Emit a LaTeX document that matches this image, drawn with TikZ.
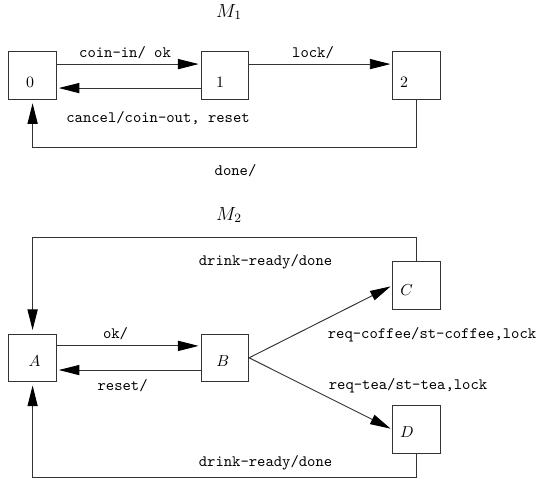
\documentclass[tikz,border=0pt]{standalone}
\usetikzlibrary{arrows.meta}
\begin{document}
\begin{tikzpicture}[x=0.63pt,y=-0.63pt,
  statebox/.style={draw=black!80,line width=0.6pt,minimum width=30pt,minimum height=30pt,inner sep=0pt},
  lbl/.style={inner sep=0pt,font=\ttfamily,text height=1.5ex,text depth=.25ex,anchor=center},
  stlbl/.style={inner sep=0pt,text height=1.5ex,text depth=0ex,anchor=center},
  conn/.style={line width=0.6pt,draw=black!80,-{Triangle[length=13pt,width=6.4pt,black]},shorten >=1.2pt}]
\useasboundingbox (0,0) rectangle (539,483);
% M1
\node[stlbl,font=\large] (m1) at (229,12) {$M_1$};
\node[statebox] (s0) at (32.6,75.5) {};
\node[statebox] (s1) at (224.8,75.5) {};
\node[statebox] (s2) at (416.6,75.5) {};
\node[stlbl] (t0) at (30,82.5) {0};
\node[stlbl] (t1) at (220,82.5) {1};
\node[stlbl] (t2) at (404,82.5) {2};
\draw[conn] ([yshift=7.2pt]s0.east) -- ([yshift=7.2pt]s1.west);
\draw[conn] ([yshift=-7.9pt]s1.west) -- ([yshift=-7.9pt]s0.east);
\draw[conn] ([yshift=7.2pt]s1.east) -- ([yshift=7.2pt]s2.west);
\coordinate (d1) at (416.6,147.3);
\coordinate (d2) at (32.6,147.3);
\draw[conn,shorten >=2.2pt] (s2.south) -- (d1) -- (d2) -- (s0.south);
\node[lbl] (l1) at (125,53.3) {coin-in/ ok};
\node[lbl] (l2) at (313,53.3) {lock/};
\node[lbl] (l3) at (158,118.3) {cancel/coin-out, reset};
\node[lbl] (l4) at (235.5,171.7) {done/};
% M2
\node[stlbl,font=\large] (m2) at (229,215) {$M_2$};
\node[statebox] (sA) at (32.6,357.8) {};
\node[statebox] (sB) at (224.8,357.8) {};
\node[statebox] (sC) at (416.6,285.5) {};
\node[statebox] (sD) at (416.6,429.5) {};
\node[stlbl] (tA) at (34.6,361.5) {$A$};
\node[stlbl] (tB) at (222.7,361.5) {$B$};
\node[stlbl] (tC) at (406.5,290.5) {$C$};
\node[stlbl] (tD) at (407,432.5) {$D$};
\draw[conn] ([yshift=7.5pt]sA.east) -- ([yshift=7.5pt]sB.west);
\draw[conn] ([yshift=-7.7pt]sB.west) -- ([yshift=-7.7pt]sA.east);
\draw[conn] (sB.east) -- (sC.west);
\draw[conn] (sB.east) -- (sD.west);
\coordinate (u1) at (416.6,237.7);
\coordinate (u2) at (32.6,237.7);
\draw[conn,shorten >=2.2pt] (sC.north) -- (u1) -- (u2) -- (sA.north);
\coordinate (v1) at (416.6,477.3);
\coordinate (v2) at (32.6,477.3);
\draw[conn,shorten >=2.2pt] (sD.south) -- (v1) -- (v2) -- (sA.south);
\node[lbl] (k1) at (265.5,261) {drink-ready/done};
\node[lbl] (k2) at (432,334) {req-coffee/st-coffee,lock};
\node[lbl] (k3) at (115.5,334) {ok/};
\node[lbl] (k4) at (122.6,386.7) {reset/};
\node[lbl] (k5) at (408,385) {req-tea/st-tea,lock};
\node[lbl] (k6) at (265.5,462.7) {drink-ready/done};
\end{tikzpicture}
\end{document}
